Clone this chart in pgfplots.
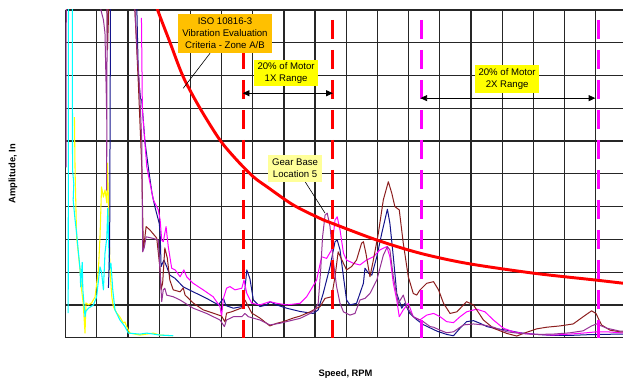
\documentclass[border=0pt]{standalone}
\usepackage{pgfplots}
\pgfplotsset{compat=1.18}
\usepackage{fontspec}
\setmainfont{Liberation Sans}
\usetikzlibrary{arrows.meta}
\definecolor{isored}{RGB}{255,0,0}
\definecolor{navyline}{RGB}{20,20,140}
\definecolor{magline}{RGB}{255,0,255}
\definecolor{brownline}{RGB}{140,30,30}
\definecolor{purpline}{RGB}{150,50,150}
\definecolor{yelline}{RGB}{255,255,0}
\definecolor{cyanline}{RGB}{0,255,255}
\definecolor{isobox}{RGB}{255,192,0}
\definecolor{gearbox}{RGB}{255,255,153}
\begin{document}
\begin{tikzpicture}
\useasboundingbox (-49.275pt,-33.225pt) rectangle (417.975pt,253.275pt);
\begin{axis}[
  at={(0,0)}, anchor=south west,
  scale only axis, width=417.975pt, height=245.775pt,
  xmin=0, xmax=1787.8, ymin=0, ymax=10,
  xtick={0,100,...,1700}, ytick={0,1,...,10},
  xticklabels={}, yticklabels={},
  major tick length=0pt,
  grid=major, grid style={black!85, line width=0.9pt},
  axis line style={draw=none},
  every axis plot/.append style={line join=round},
]
% yellow
\addplot[yelline, line width=0.8pt] coordinates {(28,6.73) (30,5.12) (35,3.07) (46,2.07) (51,1.46) (56,1.06) (62,0.14) (65,1.06) (73,1.0) (83,1.06) (94,1.24) (105,2.07) (110,3.07) (115,4.6) (121,4.29) (126,4.51) (132,4.11) (134,5.33) (137,4.2) (142,2.07) (148,1.24) (153,0.94) (164,0.75) (174,0.63) (185,0.45) (190,0.48) (196,0.33) (206,0.14) (238,0.08) (281,0.14) (303,0.08) (344,0.06)};
% cyan
\addplot[cyanline, line width=0.8pt] coordinates {(8,0.75) (9,11) (21,11) (22,5.12) (26,4.7) (24,4.2) (30,3.6) (35,3.2) (40,2.68) (46,2.1) (48,1.55) (53,2.3) (55,1.46) (62,0.64) (65,0.81) (73,0.90) (89,1.0) (99,1.24) (110,2.16) (115,2.0) (121,1.46) (126,2.58) (132,3.07) (135,3.95) (140,2.07) (145,2.28) (151,1.46) (158,0.85) (174,0.54) (190,0.34) (201,0.14) (238,0.11) (260,0.14) (303,0.08) (345,0.06)};
% navy
\addplot[navyline, line width=0.75pt] coordinates {(137,1.52) (141,2.68) (144,11) (226,11) (233,8.0) (240,7.3) (244,7.25) (254,6.0) (265,5.2) (277,4.4) (286,4.0) (300,3.49) (303,3.2) (306,2.17) (315,2.37) (324,2.17) (334,1.91) (351,1.81) (377,1.55) (409,1.40) (452,1.2) (490,1.0) (506,1.2) (514,0.98) (538,0.9) (565,0.95) (572,1.2) (581,2.07) (591,1.80) (602,1.15) (623,0.95) (645,1.0) (655,1.1) (677,1.0) (709,0.90) (752,0.80) (794,0.74) (810,0.85) (826,1.35) (848,2.17) (864,2.93) (871,2.98) (880,2.68) (891,1.86) (901,1.15) (912,1.0) (933,1.05) (955,1.66) (960,2.12) (971,1.97) (982,1.91) (998,2.47) (1014,3.19) (1032,3.92) (1040,3.49) (1051,2.47) (1062,1.35) (1078,0.90) (1088,1.05) (1104,0.74) (1126,0.55) (1147,0.4) (1169,0.3) (1191,0.2) (1222,0.1) (1244,0.06) (1265,0.29) (1286,0.49) (1308,0.52) (1329,0.44) (1351,0.34) (1383,0.27) (1415,0.23) (1457,0.15) (1511,0.10) (1564,0.07) (1618,0.07) (1671,0.09) (1714,0.10) (1778,0.11) (1790,0.11)};
% magenta
\addplot[magline, line width=0.75pt] coordinates {(243,9.76) (246,6.95) (260,5.22) (281,4.21) (297,3.90) (303,3.59) (308,2.98) (313,2.93) (322,3.39) (329,2.78) (340,2.12) (351,2.07) (367,1.86) (379,2.07) (388,1.86) (409,1.66) (441,1.46) (473,1.25) (495,0.95) (500,0.65) (506,1.2) (516,1.51) (527,1.56) (543,1.46) (565,1.51) (572,1.76) (581,1.35) (597,1.05) (623,1.0) (655,1.10) (677,1.05) (709,1.0) (752,1.05) (773,1.25) (805,1.76) (821,2.47) (837,2.42) (853,2.68) (864,3.59) (871,3.69) (880,3.29) (891,2.58) (901,2.37) (923,2.27) (944,2.22) (965,2.37) (987,2.47) (1008,2.68) (1030,2.78) (1040,2.47) (1051,1.66) (1062,1.15) (1070,0.64) (1083,0.85) (1099,1.05) (1115,0.64) (1136,0.54) (1158,0.69) (1180,0.74) (1201,0.64) (1222,0.49) (1244,0.46) (1265,0.64) (1286,0.79) (1318,0.87) (1345,0.79) (1372,0.54) (1404,0.29) (1436,0.18) (1468,0.13) (1511,0.10) (1564,0.08) (1618,0.11) (1671,0.15) (1703,0.18) (1736,0.18) (1778,0.15) (1790,0.15)};
% brown
\addplot[brownline, line width=0.75pt] coordinates {(131,11) (134,8.78) (137,9.70) (139,11) (219,11) (222,10.0) (233,7.77) (244,5.22) (249,2.75) (252,2.9) (258,3.39) (270,3.29) (292,3.04) (303,2.07) (306,1.46) (311,1.67) (318,2.74) (326,2.43) (334,1.76) (345,1.46) (367,1.40) (377,1.52) (383,1.30) (409,1.06) (441,0.85) (473,0.75) (500,0.66) (511,0.48) (516,0.75) (532,0.79) (565,0.91) (575,1.15) (583,1.00) (597,0.75) (623,0.60) (655,0.36) (677,0.44) (698,0.49) (730,0.60) (752,0.66) (784,0.79) (816,0.95) (832,1.20) (853,1.25) (864,1.86) (874,2.62) (886,2.37) (901,2.07) (917,2.17) (933,2.37) (949,2.88) (955,2.93) (963,2.58) (976,1.86) (987,2.37) (1003,3.19) (1019,4.21) (1035,4.76) (1046,4.41) (1056,4.00) (1070,3.90) (1083,2.88) (1099,1.86) (1115,1.35) (1126,1.30) (1136,1.45) (1158,1.66) (1180,1.71) (1196,1.46) (1212,1.05) (1233,0.74) (1255,0.79) (1286,1.10) (1308,1.0) (1340,0.54) (1372,0.29) (1415,0.13) (1447,0.05) (1468,0.13) (1511,0.27) (1543,0.32) (1586,0.36) (1628,0.42) (1660,0.64) (1687,0.82) (1701,0.74) (1719,0.39) (1746,0.23) (1778,0.18) (1790,0.18)};
% purple
\addplot[purpline, line width=0.75pt] coordinates {(1,5.2) (2,11) (100,11) (113,10.0) (121,9.7) (126,9.3) (130,7.5) (132,6.5) (131,5.0) (131,4.5) (132,6) (133,11) (219,11) (222,10) (230,8.6) (235,7.96) (238,7.35) (244,6.0) (247,2.62) (252,2.75) (258,3.08) (281,3.03) (297,2.98) (308,1.10) (313,1.46) (318,1.51) (324,1.30) (345,1.25) (367,1.15) (409,0.90) (452,0.74) (495,0.54) (509,0.34) (516,0.54) (538,0.64) (565,0.64) (575,0.74) (586,0.64) (623,0.54) (655,0.39) (687,0.44) (730,0.54) (752,0.59) (784,0.74) (800,0.85) (810,1.05) (818,2.07) (824,3.08) (832,3.74) (839,3.80) (848,3.39) (858,2.37) (869,1.56) (880,1.05) (891,0.79) (912,0.69) (928,0.74) (944,1.15) (960,1.20) (976,1.35) (998,1.76) (1019,2.52) (1032,2.78) (1040,2.68) (1051,1.86) (1067,1.05) (1083,1.30) (1094,0.95) (1115,0.64) (1147,0.49) (1169,0.34) (1180,0.32) (1201,0.23) (1222,0.15) (1244,0.18) (1276,0.39) (1308,0.42) (1340,0.39) (1372,0.32) (1415,0.18) (1457,0.13) (1511,0.10) (1564,0.11) (1618,0.15) (1660,0.21) (1687,0.36) (1703,0.42) (1736,0.29) (1778,0.20) (1790,0.20)};
% ISO 10816-3 criterion
\addplot[isored, line width=2.2pt, smooth] coordinates {(285,10.4) (295,10.0) (335,9.0) (377,7.96) (431,7.0) (495,6.03) (549,5.42) (602,4.91) (645,4.61) (730,4.05) (816,3.64) (855,3.49) (998,2.98) (1136,2.58) (1286,2.27) (1500,1.97) (1699,1.76) (1790,1.66)};
% range limits
\addplot[isored, line width=2.2pt, dash pattern=on 14.6pt off 7.9pt] coordinates {(570,9.70) (570,0)};
\addplot[isored, line width=2.2pt, dash pattern=on 14.6pt off 7.9pt] coordinates {(855,9.70) (855,0)};
\addplot[magline, line width=2.2pt, dash pattern=on 14.6pt off 7.9pt] coordinates {(1140,9.70) (1140,0)};
\addplot[magline, line width=2.2pt, dash pattern=on 14.6pt off 7.9pt] coordinates {(1710,9.70) (1710,0)};
% arrows
\draw[black, line width=0.6pt, {Triangle[length=5pt,width=4.5pt]}-{Triangle[length=5pt,width=4.5pt]}] (axis cs:568,7.46) -- (axis cs:857,7.46);
\draw[black, line width=0.6pt, {Triangle[length=5pt,width=4.5pt]}-{Triangle[length=5pt,width=4.5pt]}] (axis cs:1138,7.31) -- (axis cs:1699,7.31);
% leader lines
\draw[black, line width=0.45pt] (axis cs:463,8.68) -- (axis cs:377,7.61);
\draw[black, line width=0.45pt] (axis cs:768,4.76) -- (axis cs:832,3.80);
% labels
\node[fill=isobox, inner sep=1pt, minimum width=70pt, minimum height=29pt, align=center, font=\fontsize{7.2}{9.2}\selectfont] at (axis cs:511,9.29) {ISO 10816-3\\Vibration Evaluation\\Criteria - Zone A/B};
\node[fill=yelline, inner sep=1pt, minimum width=48pt, minimum height=19.5pt, align=center, font=\fontsize{7.2}{9.2}\selectfont] at (axis cs:707,8.08) {20\% of Motor\\1X Range};
\node[fill=yelline, inner sep=1pt, minimum width=48pt, minimum height=20.8pt, align=center, font=\fontsize{7.2}{9.2}\selectfont] at (axis cs:1416,7.90) {20\% of Motor\\2X Range};
\node[fill=gearbox, inner sep=1pt, minimum width=40pt, minimum height=20pt, align=center, font=\fontsize{7.2}{9.2}\selectfont] at (axis cs:736,5.17) {Gear Base\\Location 5};
\end{axis}
\node[rotate=90, font=\bfseries\fontsize{7}{8}\selectfont] at (-39.5pt,122.9pt) {Amplitude, In};
\node[font=\bfseries\fontsize{7}{8}\selectfont] at (209.85pt,-27.6pt) {Speed, RPM};
\end{tikzpicture}
\end{document}
